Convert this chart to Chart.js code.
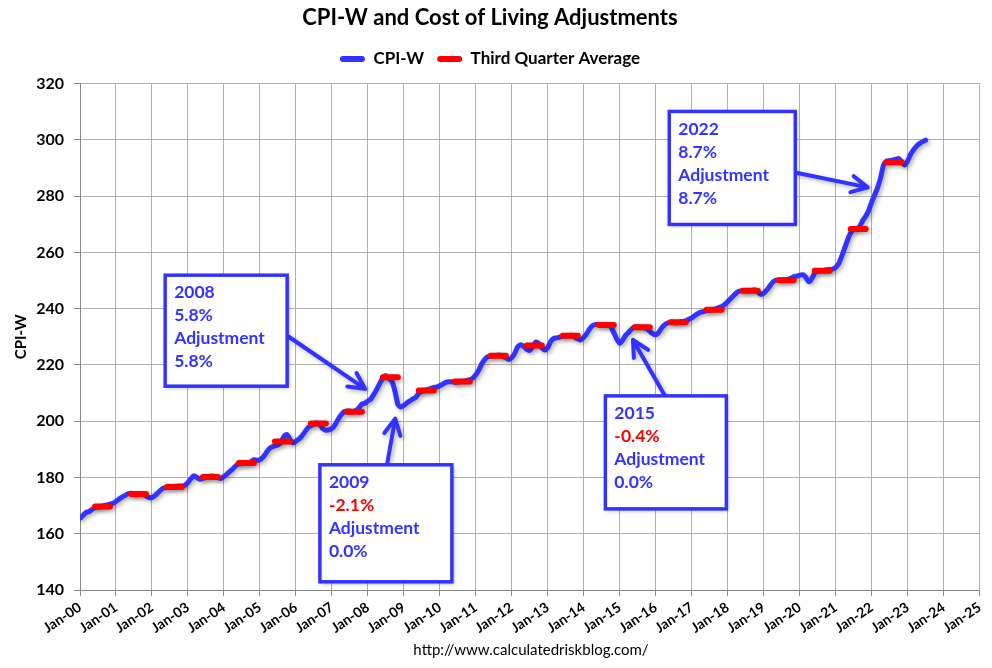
<!DOCTYPE html>
<html>
<head>
<meta charset="utf-8">
<script src="https://cdn.jsdelivr.net/npm/chart.js@4.4.0/dist/chart.umd.min.js"></script>
<style>
  body { margin: 0; background: #fff; }
  canvas { display: block; }
</style>
</head>
<body>
<canvas id="myChart" width="992" height="668"></canvas>
<script>
// monthly CPI-W, Jan 2000 .. Jul 2023 (one row per year)
const cpiwStartYear = 2000;
const cpiw = [
  165.5, 166.5, 167.6, 167.8, 168.6, 169.3, 169.5, 169.6, 170.0, 170.2, 170.5, 170.8,
  171.5, 172.3, 173.0, 173.6, 174.2, 174.4, 173.9, 173.9, 174.3, 174.0, 173.5, 172.9,
  172.8, 173.6, 174.6, 175.6, 176.3, 176.4, 176.5, 176.7, 176.9, 177.0, 177.0, 177.2,
  178.2, 179.6, 180.6, 180.0, 179.4, 179.7, 180.0, 180.3, 180.5, 180.4, 180.0, 179.6,
  180.3, 181.2, 182.2, 183.1, 184.2, 184.8, 184.9, 185.0, 185.2, 185.6, 186.3, 186.1,
  186.3, 187.2, 188.6, 190.1, 190.8, 191.2, 191.6, 192.5, 194.6, 195.3, 193.6, 192.3,
  192.9, 193.6, 194.8, 196.2, 197.7, 198.4, 199.1, 199.4, 198.8, 197.3, 196.8, 196.9,
  197.4, 198.6, 200.5, 202.1, 203.3, 203.6, 203.6, 203.4, 203.8, 204.7, 206.1, 206.4,
  207.2, 207.9, 209.6, 211.4, 213.5, 215.4, 216.2, 215.3, 214.2, 210.8, 206.0, 205.0,
  205.6, 206.5, 207.2, 207.9, 208.5, 210.0, 210.6, 211.0, 211.3, 211.6, 212.0, 212.1,
  212.6, 213.2, 213.8, 214.0, 214.0, 213.8, 213.9, 214.1, 214.2, 214.5, 214.8, 215.3,
  216.5, 218.2, 220.4, 222.0, 222.9, 223.1, 223.2, 223.4, 223.5, 223.0, 222.6, 221.9,
  222.6, 224.2, 226.5, 227.2, 226.5, 225.5, 225.2, 226.7, 228.1, 227.6, 226.2, 225.3,
  226.2, 228.4, 229.4, 229.6, 229.9, 230.3, 230.4, 230.5, 230.5, 229.9, 229.3, 228.9,
  229.8, 231.2, 232.9, 234.0, 234.4, 234.5, 234.3, 234.1, 234.2, 233.6, 231.5, 229.2,
  227.7, 228.9, 230.6, 231.6, 232.8, 233.5, 233.6, 233.4, 233.3, 232.9, 232.0, 231.1,
  230.7, 231.6, 233.2, 234.3, 234.9, 235.3, 235.1, 235.0, 235.2, 235.5, 235.7, 236.2,
  236.7, 237.5, 238.2, 238.8, 239.0, 239.3, 239.4, 239.6, 239.9, 240.4, 240.8, 241.5,
  242.5, 243.6, 244.7, 245.7, 246.2, 246.4, 246.3, 246.4, 246.5, 246.7, 246.0, 245.1,
  245.5, 246.6, 248.0, 249.4, 250.1, 250.2, 250.2, 250.2, 250.3, 250.8, 251.3, 251.6,
  251.9, 252.1, 251.2, 249.6, 250.6, 252.7, 253.3, 253.5, 253.6, 253.8, 253.9, 254.1,
  254.7, 256.0, 258.6, 261.5, 264.5, 267.0, 268.1, 268.4, 269.2, 271.3, 272.8, 274.9,
  277.8, 280.4, 283.1, 286.6, 291.2, 292.5, 292.6, 292.8, 293.1, 293.4, 292.2, 291.1,
  292.5, 294.9, 296.5, 297.8, 298.7, 299.4, 299.9
];

const q3Years = [2000, 2001, 2002, 2003, 2004, 2005, 2006, 2007, 2008, 2009, 2010, 2011,
                 2012, 2013, 2014, 2015, 2016, 2017, 2018, 2019, 2020, 2021, 2022];
const q3Average = [169.7, 174.1, 176.6, 180.2, 185.1, 192.8, 199.2, 203.4, 215.6, 210.9, 214.1, 223.3,
                   226.9, 230.4, 234.2, 233.4, 235.2, 239.6, 246.4, 250.1, 253.5, 268.3, 292.0];

const tickLabels = ['Jan-00', 'Jan-01', 'Jan-02', 'Jan-03', 'Jan-04', 'Jan-05', 'Jan-06', 'Jan-07', 'Jan-08',
                    'Jan-09', 'Jan-10', 'Jan-11', 'Jan-12', 'Jan-13', 'Jan-14', 'Jan-15', 'Jan-16', 'Jan-17',
                    'Jan-18', 'Jan-19', 'Jan-20', 'Jan-21', 'Jan-22', 'Jan-23', 'Jan-24', 'Jan-25'];

const BLUE = '#3333ff';
const RED = '#ff0000';

// callout boxes, placed in data units (x = months since Jan-00, y = CPI-W)
const notes = [
  { x: 28.4, y: 251.9, w: 122, h: 111, from: [69.5, 230.1], to: [95.1, 211.5],
    lines: [['2008', BLUE], ['5.8%', BLUE], ['Adjustment', BLUE], ['5.8%', BLUE]] },
  { x: 80.0, y: 184.5, w: 132, h: 117, from: [102.4, 184.6], to: [105.1, 200.9],
    lines: [['2009', BLUE], ['-2.1%', RED], ['Adjustment', BLUE], ['0.0%', BLUE]] },
  { x: 175.2, y: 209.0, w: 121, h: 113, from: [195.0, 209.1], to: [184.4, 228.9],
    lines: [['2015', BLUE], ['-0.4%', RED], ['Adjustment', BLUE], ['0.0%', BLUE]] },
  { x: 196.5, y: 310.1, w: 126, h: 113, from: [238.9, 288.3], to: [262.7, 283.1],
    lines: [['2022', BLUE], ['8.7%', BLUE], ['Adjustment', BLUE], ['8.7%', BLUE]] }
];

const cpiwPoints = cpiw.map((v, i) => ({ x: i, y: v }));
const q3Points = [];
q3Years.forEach((yr, i) => {
  const m = (yr - cpiwStartYear) * 12;
  q3Points.push({ x: m + 5, y: q3Average[i] });
  q3Points.push({ x: m + 10, y: q3Average[i] });
  q3Points.push({ x: m + 10, y: null });
});

const lineShadow = {
  id: 'lineShadow',
  beforeDatasetDraw(chart) {
    const ctx = chart.ctx;
    ctx.save();
    ctx.shadowColor = 'rgba(0,0,0,0.3)';
    ctx.shadowBlur = 4;
    ctx.shadowOffsetX = 2;
    ctx.shadowOffsetY = 2;
  },
  afterDatasetDraw(chart) {
    chart.ctx.restore();
  }
};

function drawArrow(ctx, fx, fy, tx, ty) {
  const ang = Math.atan2(ty - fy, tx - fx);
  const len = 18, spread = 0.47;
  ctx.beginPath();
  ctx.moveTo(fx, fy);
  ctx.lineTo(tx, ty);
  ctx.moveTo(tx - len * Math.cos(ang - spread), ty - len * Math.sin(ang - spread));
  ctx.lineTo(tx, ty);
  ctx.lineTo(tx - len * Math.cos(ang + spread), ty - len * Math.sin(ang + spread));
  ctx.stroke();
}

const callouts = {
  id: 'callouts',
  afterDraw(chart) {
    const ctx = chart.ctx;
    const xs = chart.scales.x, ys = chart.scales.y;
    ctx.save();
    notes.forEach(n => {
      // arrow
      ctx.strokeStyle = BLUE;
      ctx.lineWidth = 4;
      ctx.lineCap = 'round';
      ctx.lineJoin = 'round';
      ctx.shadowColor = 'rgba(0,0,0,0.3)';
      ctx.shadowBlur = 4;
      ctx.shadowOffsetX = 2;
      ctx.shadowOffsetY = 2;
      drawArrow(ctx, xs.getPixelForValue(n.from[0]), ys.getPixelForValue(n.from[1]),
                xs.getPixelForValue(n.to[0]), ys.getPixelForValue(n.to[1]));
      // box
      const bx = xs.getPixelForValue(n.x), by = ys.getPixelForValue(n.y);
      ctx.fillStyle = '#fff';
      ctx.fillRect(bx, by, n.w, n.h);
      ctx.shadowColor = 'transparent';
      ctx.lineWidth = 3.5;
      ctx.lineJoin = 'miter';
      ctx.strokeRect(bx, by, n.w, n.h);
      ctx.font = 'bold 17.5px Lato';
      ctx.textBaseline = 'middle';
      ctx.textAlign = 'left';
      n.lines.forEach((ln, i) => {
        ctx.fillStyle = ln[1];
        ctx.fillText(ln[0], bx + 9, by + 17.5 + i * 23);
      });
    });
    // source line
    ctx.fillStyle = '#000';
    ctx.font = '15px Lato';
    ctx.textAlign = 'center';
    ctx.textBaseline = 'middle';
    ctx.fillText('http://www.calculatedriskblog.com/', 531, 650);
    ctx.restore();
  }
};

const ctx = document.getElementById('myChart').getContext('2d');
const myChart = new Chart(ctx, {
  type: 'line',
  data: {
    datasets: [{
      label: 'CPI-W',
      data: cpiwPoints,
      borderColor: BLUE,
      backgroundColor: BLUE,
      borderWidth: 5,
      pointRadius: 0,
      tension: 0.2,
      borderJoinStyle: 'round',
      borderCapStyle: 'round',
      fill: false,
      order: 1
    }, {
      label: 'Third Quarter Average',
      data: q3Points,
      borderColor: RED,
      backgroundColor: RED,
      borderWidth: 6,
      pointRadius: 0,
      borderCapStyle: 'round',
      spanGaps: false,
      fill: false,
      order: 0
    }]
  },
  options: {
    responsive: false,
    devicePixelRatio: 1,
    animation: false,
    layout: { padding: { left: 0, right: 12, top: 0, bottom: 0 } },
    plugins: {
      title: {
        display: true,
        text: 'CPI-W and Cost of Living Adjustments',
        color: '#000',
        font: { family: 'Lato', size: 22, weight: 'bold' },
        padding: { top: 5, bottom: 6 }
      },
      // empty spacer between the legend and the plot
      subtitle: {
        display: true,
        text: ' ',
        weight: 500,
        font: { size: 1 },
        padding: { top: 0, bottom: 5 }
      },
      legend: {
        labels: {
          color: '#000',
          font: { family: 'Lato', size: 17, weight: 'bold' },
          boxWidth: 25,
          boxHeight: 6,
          useBorderRadius: true,
          borderRadius: 3,
          padding: 13,
          sort: (a, b) => a.datasetIndex - b.datasetIndex,
          generateLabels: chart => Chart.defaults.plugins.legend.labels.generateLabels(chart)
            .map(l => Object.assign(l, { lineWidth: 0 }))
        }
      },
      tooltip: { enabled: false }
    },
    scales: {
      x: {
        type: 'linear',
        min: 0,
        max: 300,
        afterFit: s => { s.height = 78; },
        afterBuildTicks: s => {
          s.ticks = tickLabels.map((t, i) => ({ value: i * 12 }));
        },
        grid: { color: '#b0b0b0', tickLength: 6, tickColor: '#888' },
        border: { color: '#888' },
        ticks: {
          autoSkip: false,
          minRotation: 34,
          maxRotation: 34,
          color: '#000',
          font: { family: 'Lato', size: 14, weight: 'bold' },
          callback: v => tickLabels[Math.round(v / 12)]
        }
      },
      y: {
        min: 140,
        max: 320,
        afterFit: s => { s.width = 80; },
        grid: { color: '#b0b0b0', tickLength: 6, tickColor: '#888' },
        border: { color: '#888' },
        title: {
          display: true,
          text: 'CPI-W',
          color: '#000',
          font: { family: 'Lato', size: 15, weight: 'bold' },
          padding: { top: 12, bottom: 0 }
        },
        ticks: {
          stepSize: 20,
          color: '#000',
          padding: 10,
          font: { family: 'Lato', size: 16, weight: 'bold' }
        }
      }
    }
  },
  plugins: [lineShadow, callouts]
});
</script>
</body>
</html>
